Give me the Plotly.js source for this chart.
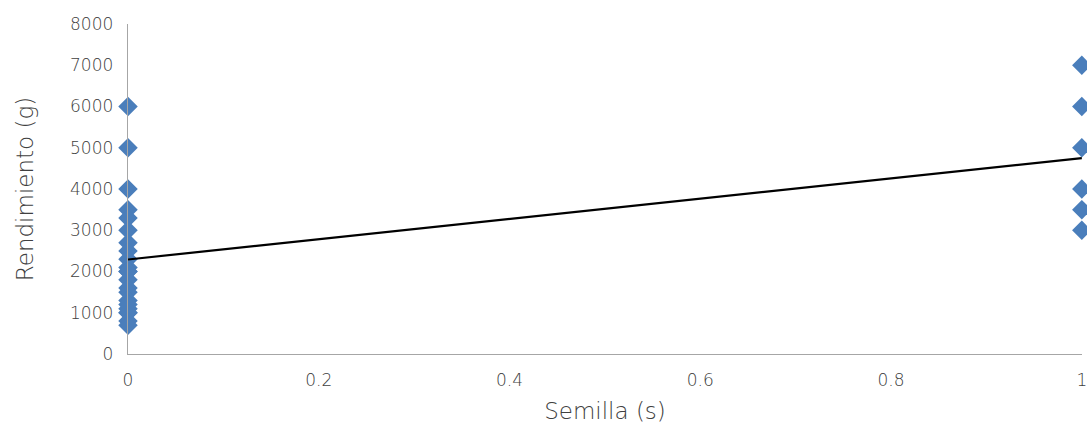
<!DOCTYPE html>
<html>
<head>
<meta charset="utf-8">
<script src="https://cdn.plot.ly/plotly-3.0.1.min.js"></script>
<style>html,body{margin:0;padding:0;background:#fff;}#chart{width:1087px;height:427px;}</style>
</head>
<body>
<div id="chart"></div>
<script>
// Semilla (s) = 0 group and 1 group
var semilla0 = [0,0,0,0,0,0,0,0,0,0,0,0,0,0,0,0,0,0,0,0,0,0];
var rend0 = [6000,5000,4000,3500,3300,3000,2700,2500,2300,2100,2000,2000,1800,1600,1500,1300,1200,1100,1000,1000,800,700];
var semilla1 = [1,1,1,1,1,1];
var rend1 = [7000,6000,5000,4000,3500,3000];
var xTicks = [0,0.2,0.4,0.6,0.8,1];
var xTickText = ['0','0.2','0.4','0.6','0.8','1'];
var yTicks = [0,1000,2000,3000,4000,5000,6000,7000,8000];

var xs = semilla0.concat(semilla1);
var ys = rend0.concat(rend1);
// least squares linear trendline
var n = xs.length, sx=0, sy=0, sxx=0, sxy=0;
for (var i=0;i<n;i++){sx+=xs[i];sy+=ys[i];sxx+=xs[i]*xs[i];sxy+=xs[i]*ys[i];}
var slope = (n*sxy - sx*sy)/(n*sxx - sx*sx);
var intercept = (sy - slope*sx)/n;
var trendX = [0,1];
var trendY = trendX.map(function(x){return intercept + slope*x;});

var font = "'DejaVu Sans', 'Open Sans', sans-serif";
var data = [
  {x: xs, y: ys, type:'scatter', mode:'markers', cliponaxis:false,
   marker:{symbol:'diamond', size:15, color:'#4a7ebb', line:{width:0}}, showlegend:false},
  {x: trendX, y: trendY, type:'scatter', mode:'lines', line:{color:'#000000', width:2.2}, showlegend:false, cliponaxis:false}
];
var layout = {
  width:1087, height:427,
  margin:{l:128, r:5, t:24, b:73},
  paper_bgcolor:'#fff', plot_bgcolor:'#fff',
  font:{family:font, color:'#404040', size:17, weight:200},
  xaxis:{range:[0,1.0002], tickvals:xTicks, ticktext:xTickText, showgrid:false, zeroline:false,
    showline:true, linecolor:'#a6a6a6', linewidth:1.3, ticks:'', ticklen:0,
    ticklabeloverflow:'allow', ticklabelstandoff:10,
    tickfont:{size:17, color:'#404040', family:font, weight:200},
    title:{text:'Semilla (s)', font:{size:23, color:'#404040', family:font, weight:200}, standoff:14}},
  yaxis:{range:[0,8000], tickvals:yTicks, showgrid:false, zeroline:false,
    showline:true, linecolor:'#a6a6a6', linewidth:1.3, ticks:'', ticklen:0,
    ticklabelstandoff:10,
    tickfont:{size:17, color:'#404040', family:font, weight:200},
    title:{text:'Rendimiento (g)', font:{size:23, color:'#404040', family:font, weight:200}, standoff:30}}
};
Plotly.newPlot('chart', data, layout, {displayModeBar:false, staticPlot:true});
</script>
</body>
</html>
